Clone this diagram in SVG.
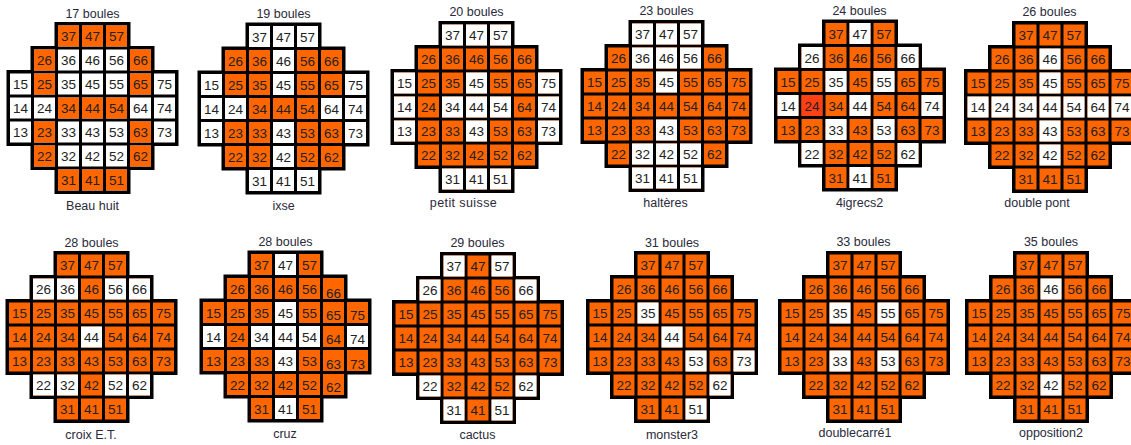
<svg xmlns="http://www.w3.org/2000/svg" xmlns:xlink="http://www.w3.org/1999/xlink" width="1131" height="445" viewBox="0 0 1131 445">
<style>
.bg{fill:#000;stroke:#000;stroke-width:4}
.w{fill:#fff}
.o{fill:#ff6600}
.r{fill:#ff3f14}
.n{font-family:"Liberation Sans",Arial,sans-serif;font-size:13.5px;fill:#222;text-anchor:middle}
.t{font-family:"Liberation Sans",Arial,sans-serif;font-size:12.5px;fill:#2a2a3a;text-anchor:middle}
</style>
<defs>
<path id="shape" d="M48 0H120V24H144V48H168V120H144V144H120V168H48V144H24V120H0V48H24V24H48Z"/>
<path id="cells" d="M49.5 1.5h21v21h-21zM73.5 1.5h21v21h-21zM97.5 1.5h21v21h-21zM25.5 25.5h21v21h-21zM49.5 25.5h21v21h-21zM73.5 25.5h21v21h-21zM97.5 25.5h21v21h-21zM121.5 25.5h21v21h-21zM1.5 49.5h21v21h-21zM25.5 49.5h21v21h-21zM49.5 49.5h21v21h-21zM73.5 49.5h21v21h-21zM97.5 49.5h21v21h-21zM121.5 49.5h21v21h-21zM145.5 49.5h21v21h-21zM1.5 73.5h21v21h-21zM25.5 73.5h21v21h-21zM49.5 73.5h21v21h-21zM73.5 73.5h21v21h-21zM97.5 73.5h21v21h-21zM121.5 73.5h21v21h-21zM145.5 73.5h21v21h-21zM1.5 97.5h21v21h-21zM25.5 97.5h21v21h-21zM49.5 97.5h21v21h-21zM73.5 97.5h21v21h-21zM97.5 97.5h21v21h-21zM121.5 97.5h21v21h-21zM145.5 97.5h21v21h-21zM25.5 121.5h21v21h-21zM49.5 121.5h21v21h-21zM73.5 121.5h21v21h-21zM97.5 121.5h21v21h-21zM121.5 121.5h21v21h-21zM49.5 145.5h21v21h-21zM73.5 145.5h21v21h-21zM97.5 145.5h21v21h-21z"/>
</defs>

<g id="board1" transform="translate(8.5,24)">
<use href="#shape" class="bg"/>
<use href="#cells" class="w"/>
<path class="o" d="M49.5 1.5h21v21h-21zM73.5 1.5h21v21h-21zM97.5 1.5h21v21h-21zM25.5 25.5h21v21h-21zM121.5 25.5h21v21h-21zM25.5 49.5h21v21h-21zM121.5 49.5h21v21h-21zM49.5 73.5h21v21h-21zM73.5 73.5h21v21h-21zM97.5 73.5h21v21h-21zM25.5 97.5h21v21h-21zM121.5 97.5h21v21h-21zM25.5 121.5h21v21h-21zM121.5 121.5h21v21h-21zM49.5 145.5h21v21h-21zM73.5 145.5h21v21h-21zM97.5 145.5h21v21h-21z"/>
<text class="n" y="17"><tspan x="60">37</tspan><tspan x="84">47</tspan><tspan x="108">57</tspan></text>
<text class="n" y="41"><tspan x="36">26</tspan><tspan x="60">36</tspan><tspan x="84">46</tspan><tspan x="108">56</tspan><tspan x="132">66</tspan></text>
<text class="n" y="65"><tspan x="12">15</tspan><tspan x="36">25</tspan><tspan x="60">35</tspan><tspan x="84">45</tspan><tspan x="108">55</tspan><tspan x="132">65</tspan><tspan x="156">75</tspan></text>
<text class="n" y="89"><tspan x="12">14</tspan><tspan x="36">24</tspan><tspan x="60">34</tspan><tspan x="84">44</tspan><tspan x="108">54</tspan><tspan x="132">64</tspan><tspan x="156">74</tspan></text>
<text class="n" y="113"><tspan x="12">13</tspan><tspan x="36">23</tspan><tspan x="60">33</tspan><tspan x="84">43</tspan><tspan x="108">53</tspan><tspan x="132">63</tspan><tspan x="156">73</tspan></text>
<text class="n" y="137"><tspan x="36">22</tspan><tspan x="60">32</tspan><tspan x="84">42</tspan><tspan x="108">52</tspan><tspan x="132">62</tspan></text>
<text class="n" y="161"><tspan x="60">31</tspan><tspan x="84">41</tspan><tspan x="108">51</tspan></text>
<text class="t" x="84" y="-6.5">17 boules</text>
<text class="t" x="84" y="186">Beau huit</text>
</g>

<g id="board2" transform="translate(199.5,24.5)">
<use href="#shape" class="bg"/>
<use href="#cells" class="o"/>
<path class="w" d="M49.5 1.5h21v21h-21zM73.5 1.5h21v21h-21zM97.5 1.5h21v21h-21zM73.5 25.5h21v21h-21zM1.5 49.5h21v21h-21zM73.5 49.5h21v21h-21zM145.5 49.5h21v21h-21zM1.5 73.5h21v21h-21zM25.5 73.5h21v21h-21zM121.5 73.5h21v21h-21zM145.5 73.5h21v21h-21zM1.5 97.5h21v21h-21zM73.5 97.5h21v21h-21zM145.5 97.5h21v21h-21zM73.5 121.5h21v21h-21zM49.5 145.5h21v21h-21zM73.5 145.5h21v21h-21zM97.5 145.5h21v21h-21z"/>
<text class="n" y="17"><tspan x="60">37</tspan><tspan x="84">47</tspan><tspan x="108">57</tspan></text>
<text class="n" y="41"><tspan x="36">26</tspan><tspan x="60">36</tspan><tspan x="84">46</tspan><tspan x="108">56</tspan><tspan x="132">66</tspan></text>
<text class="n" y="65"><tspan x="12">15</tspan><tspan x="36">25</tspan><tspan x="60">35</tspan><tspan x="84">45</tspan><tspan x="108">55</tspan><tspan x="132">65</tspan><tspan x="156">75</tspan></text>
<text class="n" y="89"><tspan x="12">14</tspan><tspan x="36">24</tspan><tspan x="60">34</tspan><tspan x="84">44</tspan><tspan x="108">54</tspan><tspan x="132">64</tspan><tspan x="156">74</tspan></text>
<text class="n" y="113"><tspan x="12">13</tspan><tspan x="36">23</tspan><tspan x="60">33</tspan><tspan x="84">43</tspan><tspan x="108">53</tspan><tspan x="132">63</tspan><tspan x="156">73</tspan></text>
<text class="n" y="137"><tspan x="36">22</tspan><tspan x="60">32</tspan><tspan x="84">42</tspan><tspan x="108">52</tspan><tspan x="132">62</tspan></text>
<text class="n" y="161"><tspan x="60">31</tspan><tspan x="84">41</tspan><tspan x="108">51</tspan></text>
<text class="t" x="84" y="-6.5">19 boules</text>
<text class="t" x="84" y="185">ixse</text>
</g>

<g id="board3" transform="translate(392.5,23)">
<use href="#shape" class="bg"/>
<use href="#cells" class="o"/>
<path class="w" d="M49.5 1.5h21v21h-21zM73.5 1.5h21v21h-21zM97.5 1.5h21v21h-21zM1.5 49.5h21v21h-21zM73.5 49.5h21v21h-21zM145.5 49.5h21v21h-21zM1.5 73.5h21v21h-21zM49.5 73.5h21v21h-21zM73.5 73.5h21v21h-21zM97.5 73.5h21v21h-21zM145.5 73.5h21v21h-21zM1.5 97.5h21v21h-21zM73.5 97.5h21v21h-21zM145.5 97.5h21v21h-21zM49.5 145.5h21v21h-21zM73.5 145.5h21v21h-21zM97.5 145.5h21v21h-21z"/>
<text class="n" y="17"><tspan x="60">37</tspan><tspan x="84">47</tspan><tspan x="108">57</tspan></text>
<text class="n" y="41"><tspan x="36">26</tspan><tspan x="60">36</tspan><tspan x="84">46</tspan><tspan x="108">56</tspan><tspan x="132">66</tspan></text>
<text class="n" y="65"><tspan x="12">15</tspan><tspan x="36">25</tspan><tspan x="60">35</tspan><tspan x="84">45</tspan><tspan x="108">55</tspan><tspan x="132">65</tspan><tspan x="156">75</tspan></text>
<text class="n" y="89"><tspan x="12">14</tspan><tspan x="36">24</tspan><tspan x="60">34</tspan><tspan x="84">44</tspan><tspan x="108">54</tspan><tspan x="132">64</tspan><tspan x="156">74</tspan></text>
<text class="n" y="113"><tspan x="12">13</tspan><tspan x="36">23</tspan><tspan x="60">33</tspan><tspan x="84">43</tspan><tspan x="108">53</tspan><tspan x="132">63</tspan><tspan x="156">73</tspan></text>
<text class="n" y="137"><tspan x="36">22</tspan><tspan x="60">32</tspan><tspan x="84">42</tspan><tspan x="108">52</tspan><tspan x="132">62</tspan></text>
<text class="n" y="161"><tspan x="60">31</tspan><tspan x="84">41</tspan><tspan x="108">51</tspan></text>
<text class="t" x="84" y="-7">20 boules</text>
<text class="t" x="71" y="184" letter-spacing="0.4">petit suisse</text>
</g>

<g id="board4" transform="translate(582.5,22)">
<use href="#shape" class="bg"/>
<use href="#cells" class="o"/>
<path class="w" d="M49.5 1.5h21v21h-21zM73.5 1.5h21v21h-21zM97.5 1.5h21v21h-21zM49.5 25.5h21v21h-21zM73.5 25.5h21v21h-21zM97.5 25.5h21v21h-21zM73.5 49.5h21v21h-21zM73.5 97.5h21v21h-21zM49.5 121.5h21v21h-21zM73.5 121.5h21v21h-21zM97.5 121.5h21v21h-21zM49.5 145.5h21v21h-21zM73.5 145.5h21v21h-21zM97.5 145.5h21v21h-21z"/>
<text class="n" y="17"><tspan x="60">37</tspan><tspan x="84">47</tspan><tspan x="108">57</tspan></text>
<text class="n" y="41"><tspan x="36">26</tspan><tspan x="60">36</tspan><tspan x="84">46</tspan><tspan x="108">56</tspan><tspan x="132">66</tspan></text>
<text class="n" y="65"><tspan x="12">15</tspan><tspan x="36">25</tspan><tspan x="60">35</tspan><tspan x="84">45</tspan><tspan x="108">55</tspan><tspan x="132">65</tspan><tspan x="156">75</tspan></text>
<text class="n" y="89"><tspan x="12">14</tspan><tspan x="36">24</tspan><tspan x="60">34</tspan><tspan x="84">44</tspan><tspan x="108">54</tspan><tspan x="132">64</tspan><tspan x="156">74</tspan></text>
<text class="n" y="113"><tspan x="12">13</tspan><tspan x="36">23</tspan><tspan x="60">33</tspan><tspan x="84">43</tspan><tspan x="108">53</tspan><tspan x="132">63</tspan><tspan x="156">73</tspan></text>
<text class="n" y="137"><tspan x="36">22</tspan><tspan x="60">32</tspan><tspan x="84">42</tspan><tspan x="108">52</tspan><tspan x="132">62</tspan></text>
<text class="n" y="161"><tspan x="60">31</tspan><tspan x="84">41</tspan><tspan x="108">51</tspan></text>
<text class="t" x="84" y="-7">23 boules</text>
<text class="t" x="83" y="185">haltères</text>
</g>

<g id="board5" transform="translate(776,21.5)">
<use href="#shape" class="bg"/>
<use href="#cells" class="o"/>
<path class="w" d="M73.5 1.5h21v21h-21zM25.5 25.5h21v21h-21zM121.5 25.5h21v21h-21zM49.5 49.5h21v21h-21zM97.5 49.5h21v21h-21zM1.5 73.5h21v21h-21zM73.5 73.5h21v21h-21zM145.5 73.5h21v21h-21zM49.5 97.5h21v21h-21zM97.5 97.5h21v21h-21zM25.5 121.5h21v21h-21zM121.5 121.5h21v21h-21zM73.5 145.5h21v21h-21z"/>
<path class="r" d="M25.5 73.5h21v21h-21z"/>
<text class="n" y="17"><tspan x="60">37</tspan><tspan x="84">47</tspan><tspan x="108">57</tspan></text>
<text class="n" y="41"><tspan x="36">26</tspan><tspan x="60">36</tspan><tspan x="84">46</tspan><tspan x="108">56</tspan><tspan x="132">66</tspan></text>
<text class="n" y="65"><tspan x="12">15</tspan><tspan x="36">25</tspan><tspan x="60">35</tspan><tspan x="84">45</tspan><tspan x="108">55</tspan><tspan x="132">65</tspan><tspan x="156">75</tspan></text>
<text class="n" y="89"><tspan x="12">14</tspan><tspan x="36">24</tspan><tspan x="60">34</tspan><tspan x="84">44</tspan><tspan x="108">54</tspan><tspan x="132">64</tspan><tspan x="156">74</tspan></text>
<text class="n" y="113"><tspan x="12">13</tspan><tspan x="36">23</tspan><tspan x="60">33</tspan><tspan x="84">43</tspan><tspan x="108">53</tspan><tspan x="132">63</tspan><tspan x="156">73</tspan></text>
<text class="n" y="137"><tspan x="36">22</tspan><tspan x="60">32</tspan><tspan x="84">42</tspan><tspan x="108">52</tspan><tspan x="132">62</tspan></text>
<text class="n" y="161"><tspan x="60">31</tspan><tspan x="84">41</tspan><tspan x="108">51</tspan></text>
<text class="t" x="83.5" y="-6.5">24 boules</text>
<text class="t" x="83.5" y="185">4igrecs2</text>
</g>

<g id="board6" transform="translate(966,23)">
<use href="#shape" class="bg"/>
<use href="#cells" class="o"/>
<path class="w" d="M73.5 25.5h21v21h-21zM73.5 49.5h21v21h-21zM1.5 73.5h21v21h-21zM25.5 73.5h21v21h-21zM49.5 73.5h21v21h-21zM73.5 73.5h21v21h-21zM97.5 73.5h21v21h-21zM121.5 73.5h21v21h-21zM145.5 73.5h21v21h-21zM73.5 97.5h21v21h-21zM73.5 121.5h21v21h-21z"/>
<text class="n" y="17"><tspan x="60">37</tspan><tspan x="84">47</tspan><tspan x="108">57</tspan></text>
<text class="n" y="41"><tspan x="36">26</tspan><tspan x="60">36</tspan><tspan x="84">46</tspan><tspan x="108">56</tspan><tspan x="132">66</tspan></text>
<text class="n" y="65"><tspan x="12">15</tspan><tspan x="36">25</tspan><tspan x="60">35</tspan><tspan x="84">45</tspan><tspan x="108">55</tspan><tspan x="132">65</tspan><tspan x="156">75</tspan></text>
<text class="n" y="89"><tspan x="12">14</tspan><tspan x="36">24</tspan><tspan x="60">34</tspan><tspan x="84">44</tspan><tspan x="108">54</tspan><tspan x="132">64</tspan><tspan x="156">74</tspan></text>
<text class="n" y="113"><tspan x="12">13</tspan><tspan x="36">23</tspan><tspan x="60">33</tspan><tspan x="84">43</tspan><tspan x="108">53</tspan><tspan x="132">63</tspan><tspan x="156">73</tspan></text>
<text class="n" y="137"><tspan x="36">22</tspan><tspan x="60">32</tspan><tspan x="84">42</tspan><tspan x="108">52</tspan><tspan x="132">62</tspan></text>
<text class="n" y="161"><tspan x="60">31</tspan><tspan x="84">41</tspan><tspan x="108">51</tspan></text>
<text class="t" x="83.5" y="-7">26 boules</text>
<text class="t" x="71" y="184">double pont</text>
</g>

<g id="board7" transform="translate(7.5,253)">
<use href="#shape" class="bg"/>
<use href="#cells" class="o"/>
<path class="w" d="M25.5 25.5h21v21h-21zM49.5 25.5h21v21h-21zM97.5 25.5h21v21h-21zM121.5 25.5h21v21h-21zM73.5 73.5h21v21h-21zM25.5 121.5h21v21h-21zM49.5 121.5h21v21h-21zM97.5 121.5h21v21h-21zM121.5 121.5h21v21h-21z"/>
<text class="n" y="17"><tspan x="60">37</tspan><tspan x="84">47</tspan><tspan x="108">57</tspan></text>
<text class="n" y="41"><tspan x="36">26</tspan><tspan x="60">36</tspan><tspan x="84">46</tspan><tspan x="108">56</tspan><tspan x="132">66</tspan></text>
<text class="n" y="65"><tspan x="12">15</tspan><tspan x="36">25</tspan><tspan x="60">35</tspan><tspan x="84">45</tspan><tspan x="108">55</tspan><tspan x="132">65</tspan><tspan x="156">75</tspan></text>
<text class="n" y="89"><tspan x="12">14</tspan><tspan x="36">24</tspan><tspan x="60">34</tspan><tspan x="84">44</tspan><tspan x="108">54</tspan><tspan x="132">64</tspan><tspan x="156">74</tspan></text>
<text class="n" y="113"><tspan x="12">13</tspan><tspan x="36">23</tspan><tspan x="60">33</tspan><tspan x="84">43</tspan><tspan x="108">53</tspan><tspan x="132">63</tspan><tspan x="156">73</tspan></text>
<text class="n" y="137"><tspan x="36">22</tspan><tspan x="60">32</tspan><tspan x="84">42</tspan><tspan x="108">52</tspan><tspan x="132">62</tspan></text>
<text class="n" y="161"><tspan x="60">31</tspan><tspan x="84">41</tspan><tspan x="108">51</tspan></text>
<text class="t" x="84" y="-6.5">28 boules</text>
<text class="t" x="83.5" y="186">croix E.T.</text>
</g>

<g id="board8" transform="translate(201.5,252.5)">
<use href="#shape" class="bg"/>
<use href="#cells" class="o"/>
<path class="w" d="M73.5 1.5h21v21h-21zM73.5 49.5h21v21h-21zM1.5 73.5h21v21h-21zM49.5 73.5h21v21h-21zM73.5 73.5h21v21h-21zM97.5 73.5h21v21h-21zM145.5 73.5h21v21h-21zM73.5 97.5h21v21h-21zM73.5 145.5h21v21h-21z"/>
<text class="n" y="17"><tspan x="60">37</tspan><tspan x="84">47</tspan><tspan x="108">57</tspan></text>
<text class="n" y="41"><tspan x="36">26</tspan><tspan x="60">36</tspan><tspan x="84">46</tspan><tspan x="108">56</tspan><tspan x="132" y="45">66</tspan></text>
<text class="n" y="65"><tspan x="12">15</tspan><tspan x="36">25</tspan><tspan x="60">35</tspan><tspan x="84">45</tspan><tspan x="108">55</tspan><tspan x="132" y="67.5">65</tspan><tspan x="156">75</tspan></text>
<text class="n" y="89"><tspan x="12">14</tspan><tspan x="36">24</tspan><tspan x="60">34</tspan><tspan x="84">44</tspan><tspan x="108">54</tspan><tspan x="132" y="91.5">64</tspan><tspan x="156">74</tspan></text>
<text class="n" y="113"><tspan x="12">13</tspan><tspan x="36">23</tspan><tspan x="60">33</tspan><tspan x="84">43</tspan><tspan x="108">53</tspan><tspan x="132" y="116">63</tspan><tspan x="156">73</tspan></text>
<text class="n" y="137"><tspan x="36">22</tspan><tspan x="60">32</tspan><tspan x="84">42</tspan><tspan x="108">52</tspan><tspan x="132" y="139.5">62</tspan></text>
<text class="n" y="161"><tspan x="60">31</tspan><tspan x="84">41</tspan><tspan x="108">51</tspan></text>
<text class="t" x="84" y="-6.5">28 boules</text>
<text class="t" x="83.5" y="185.5">cruz</text>
</g>

<g id="board9" transform="translate(394,254)">
<use href="#shape" class="bg"/>
<use href="#cells" class="o"/>
<path class="w" d="M49.5 1.5h21v21h-21zM97.5 1.5h21v21h-21zM25.5 25.5h21v21h-21zM121.5 25.5h21v21h-21zM25.5 121.5h21v21h-21zM121.5 121.5h21v21h-21zM49.5 145.5h21v21h-21zM97.5 145.5h21v21h-21z"/>
<text class="n" y="17"><tspan x="60">37</tspan><tspan x="84">47</tspan><tspan x="108">57</tspan></text>
<text class="n" y="41"><tspan x="36">26</tspan><tspan x="60">36</tspan><tspan x="84">46</tspan><tspan x="108">56</tspan><tspan x="132">66</tspan></text>
<text class="n" y="65"><tspan x="12">15</tspan><tspan x="36">25</tspan><tspan x="60">35</tspan><tspan x="84">45</tspan><tspan x="108">55</tspan><tspan x="132">65</tspan><tspan x="156">75</tspan></text>
<text class="n" y="89"><tspan x="12">14</tspan><tspan x="36">24</tspan><tspan x="60">34</tspan><tspan x="84">44</tspan><tspan x="108">54</tspan><tspan x="132">64</tspan><tspan x="156">74</tspan></text>
<text class="n" y="113"><tspan x="12">13</tspan><tspan x="36">23</tspan><tspan x="60">33</tspan><tspan x="84">43</tspan><tspan x="108">53</tspan><tspan x="132">63</tspan><tspan x="156">73</tspan></text>
<text class="n" y="137"><tspan x="36">22</tspan><tspan x="60">32</tspan><tspan x="84">42</tspan><tspan x="108">52</tspan><tspan x="132">62</tspan></text>
<text class="n" y="161"><tspan x="60">31</tspan><tspan x="84">41</tspan><tspan x="108">51</tspan></text>
<text class="t" x="83.5" y="-7.5">29 boules</text>
<text class="t" x="83.5" y="184.5">cactus</text>
</g>

<g id="board10" transform="translate(588,253)">
<use href="#shape" class="bg"/>
<use href="#cells" class="o"/>
<path class="w" d="M49.5 49.5h21v21h-21zM73.5 73.5h21v21h-21zM97.5 97.5h21v21h-21zM145.5 97.5h21v21h-21zM121.5 121.5h21v21h-21zM97.5 145.5h21v21h-21z"/>
<text class="n" y="17"><tspan x="60">37</tspan><tspan x="84">47</tspan><tspan x="108">57</tspan></text>
<text class="n" y="41"><tspan x="36">26</tspan><tspan x="60">36</tspan><tspan x="84">46</tspan><tspan x="108">56</tspan><tspan x="132">66</tspan></text>
<text class="n" y="65"><tspan x="12">15</tspan><tspan x="36">25</tspan><tspan x="60">35</tspan><tspan x="84">45</tspan><tspan x="108">55</tspan><tspan x="132">65</tspan><tspan x="156">75</tspan></text>
<text class="n" y="89"><tspan x="12">14</tspan><tspan x="36">24</tspan><tspan x="60">34</tspan><tspan x="84">44</tspan><tspan x="108">54</tspan><tspan x="132">64</tspan><tspan x="156">74</tspan></text>
<text class="n" y="113"><tspan x="12">13</tspan><tspan x="36">23</tspan><tspan x="60">33</tspan><tspan x="84">43</tspan><tspan x="108">53</tspan><tspan x="132">63</tspan><tspan x="156">73</tspan></text>
<text class="n" y="137"><tspan x="36">22</tspan><tspan x="60">32</tspan><tspan x="84">42</tspan><tspan x="108">52</tspan><tspan x="132">62</tspan></text>
<text class="n" y="161"><tspan x="60">31</tspan><tspan x="84">41</tspan><tspan x="108">51</tspan></text>
<text class="t" x="84" y="-6.5">31 boules</text>
<text class="t" x="84" y="185.5">monster3</text>
</g>

<g id="board11" transform="translate(780,253)">
<use href="#shape" class="bg"/>
<use href="#cells" class="o"/>
<path class="w" d="M49.5 49.5h21v21h-21zM97.5 49.5h21v21h-21zM49.5 97.5h21v21h-21zM97.5 97.5h21v21h-21z"/>
<text class="n" y="17"><tspan x="60">37</tspan><tspan x="84">47</tspan><tspan x="108">57</tspan></text>
<text class="n" y="41"><tspan x="36">26</tspan><tspan x="60">36</tspan><tspan x="84">46</tspan><tspan x="108">56</tspan><tspan x="132">66</tspan></text>
<text class="n" y="65"><tspan x="12">15</tspan><tspan x="36">25</tspan><tspan x="60">35</tspan><tspan x="84">45</tspan><tspan x="108">55</tspan><tspan x="132">65</tspan><tspan x="156">75</tspan></text>
<text class="n" y="89"><tspan x="12">14</tspan><tspan x="36">24</tspan><tspan x="60">34</tspan><tspan x="84">44</tspan><tspan x="108">54</tspan><tspan x="132">64</tspan><tspan x="156">74</tspan></text>
<text class="n" y="113"><tspan x="12">13</tspan><tspan x="36">23</tspan><tspan x="60">33</tspan><tspan x="84">43</tspan><tspan x="108">53</tspan><tspan x="132">63</tspan><tspan x="156">73</tspan></text>
<text class="n" y="137"><tspan x="36">22</tspan><tspan x="60">32</tspan><tspan x="84">42</tspan><tspan x="108">52</tspan><tspan x="132">62</tspan></text>
<text class="n" y="161"><tspan x="60">31</tspan><tspan x="84">41</tspan><tspan x="108">51</tspan></text>
<text class="t" x="83.5" y="-7">33 boules</text>
<text class="t" x="75" y="184">doublecarré1</text>
</g>

<g id="board12" transform="translate(967,253)">
<use href="#shape" class="bg"/>
<use href="#cells" class="o"/>
<path class="w" d="M73.5 25.5h21v21h-21zM73.5 121.5h21v21h-21z"/>
<text class="n" y="17"><tspan x="60">37</tspan><tspan x="84">47</tspan><tspan x="108">57</tspan></text>
<text class="n" y="41"><tspan x="36">26</tspan><tspan x="60">36</tspan><tspan x="84">46</tspan><tspan x="108">56</tspan><tspan x="132">66</tspan></text>
<text class="n" y="65"><tspan x="12">15</tspan><tspan x="36">25</tspan><tspan x="60">35</tspan><tspan x="84">45</tspan><tspan x="108">55</tspan><tspan x="132">65</tspan><tspan x="156">75</tspan></text>
<text class="n" y="89"><tspan x="12">14</tspan><tspan x="36">24</tspan><tspan x="60">34</tspan><tspan x="84">44</tspan><tspan x="108">54</tspan><tspan x="132">64</tspan><tspan x="156">74</tspan></text>
<text class="n" y="113"><tspan x="12">13</tspan><tspan x="36">23</tspan><tspan x="60">33</tspan><tspan x="84">43</tspan><tspan x="108">53</tspan><tspan x="132">63</tspan><tspan x="156">73</tspan></text>
<text class="n" y="137"><tspan x="36">22</tspan><tspan x="60">32</tspan><tspan x="84">42</tspan><tspan x="108">52</tspan><tspan x="132">62</tspan></text>
<text class="n" y="161"><tspan x="60">31</tspan><tspan x="84">41</tspan><tspan x="108">51</tspan></text>
<text class="t" x="84" y="-7">35 boules</text>
<text class="t" x="84" y="184">opposition2</text>
</g>
</svg>
